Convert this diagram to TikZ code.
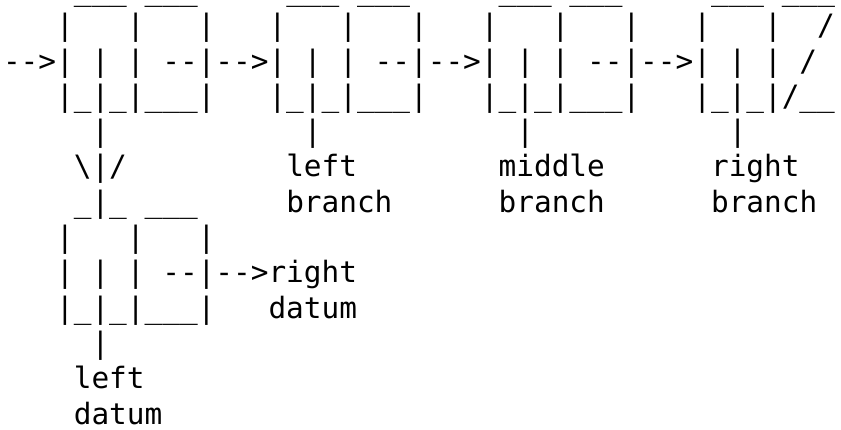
\documentclass[tikz,border=0pt]{standalone}
\usepackage{fontspec}
\setmonofont{DejaVu Sans Mono}
\begin{document}
\begin{tikzpicture}[x=1pt,y=1pt,
  asciirow/.style={anchor=base west,inner sep=0pt,outer sep=0pt,
    font=\ttfamily\fontsize{29.4}{35.3}\selectfont}]
\useasboundingbox (0,0) rectangle (841,-430);
\def\lh{35.3}
\def\xo{3.05}
\node[asciirow] (row1)  at (\xo,{-0.5-0*\lh})  {~~~~\_\_\_~\_\_\_~~~~~\_\_\_~\_\_\_~~~~~\_\_\_~\_\_\_~~~~~\_\_\_~\_\_\_};
\node[asciirow] (row2)  at (\xo,{-0.5-1*\lh})  {~~~|~~~|~~~|~~~|~~~|~~~|~~~|~~~|~~~|~~~|~~~|~~/};
\node[asciirow] (row3)  at (\xo,{-0.5-2*\lh})  {-->|~|~|~--|-->|~|~|~--|-->|~|~|~--|-->|~|~|~/};
\node[asciirow] (row4)  at (\xo,{-0.5-3*\lh})  {~~~|\_|\_|\_\_\_|~~~|\_|\_|\_\_\_|~~~|\_|\_|\_\_\_|~~~|\_|\_|/\_\_};
\node[asciirow] (row5)  at (\xo,{-0.5-4*\lh})  {~~~~~|~~~~~~~~~~~|~~~~~~~~~~~|~~~~~~~~~~~|};
\node[asciirow] (row6)  at (\xo,{-0.5-5*\lh})  {~~~~\textbackslash|/~~~~~~~~~left~~~~~~~~middle~~~~~~right};
\node[asciirow] (row7)  at (\xo,{-0.5-6*\lh})  {~~~~\_|\_~\_\_\_~~~~~branch~~~~~~branch~~~~~~branch};
\node[asciirow] (row8)  at (\xo,{-0.5-7*\lh})  {~~~|~~~|~~~|};
\node[asciirow] (row9)  at (\xo,{-0.5-8*\lh})  {~~~|~|~|~--|-->right};
\node[asciirow] (row10) at (\xo,{-0.5-9*\lh})  {~~~|\_|\_|\_\_\_|~~~datum};
\node[asciirow] (row11) at (\xo,{-0.5-10*\lh}) {~~~~~|};
\node[asciirow] (row12) at (\xo,{-0.5-11*\lh}) {~~~~left};
\node[asciirow] (row13) at (\xo,{-0.5-12*\lh}) {~~~~datum};
\end{tikzpicture}
\end{document}
